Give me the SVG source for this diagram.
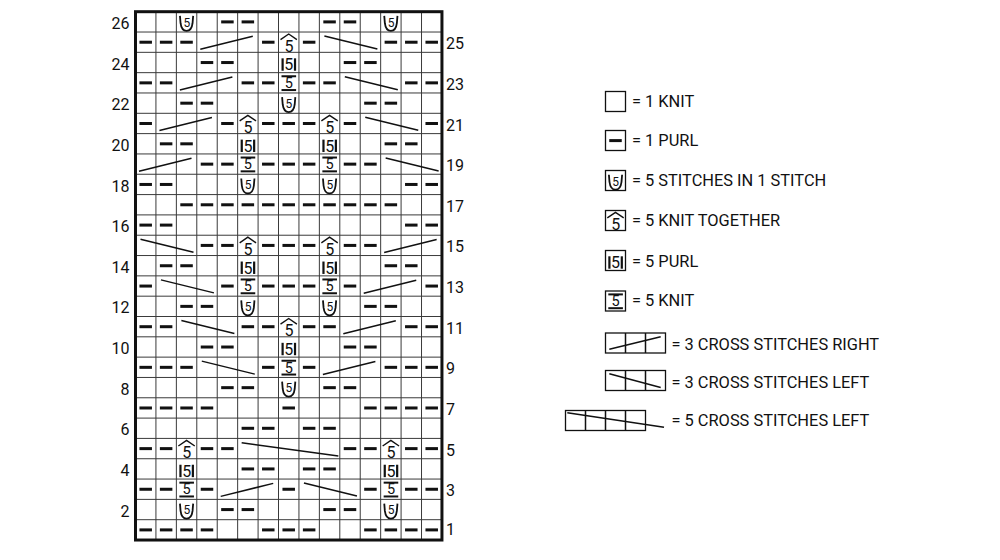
<svg xmlns="http://www.w3.org/2000/svg" width="1000" height="560" viewBox="0 0 1000 560">
<style>
text{font-family:Roboto,"Liberation Sans",sans-serif;fill:#111}
.d{text-anchor:middle}
.lab{font-size:16px}
.le{text-anchor:end}
.grid{stroke:#3a3a3a;stroke-width:1;fill:none}
.cr{stroke:#111;stroke-width:1.5;fill:none}
.box{stroke:#111;stroke-width:1.3;fill:#fff}
.leg{font-size:16.4px}
</style>
<defs>
<g id="pu"><rect x="3.95" y="8.7" width="12.5" height="3" fill="#111"/></g>
<g id="inc"><path d="M3.6,4.2 L4.2,11.5 C4.8,16.5 7.2,19.2 10.2,19.2 C13.2,19.2 15.6,16.5 16.2,11.5 L16.8,4.2" fill="none" stroke="#111" stroke-width="1.8"/><text class="d" x="10.4" y="15" font-size="12">5</text></g>
<g id="k5tog"><path d="M2,7.6 L10.2,2 L18.4,7.6" fill="none" stroke="#111" stroke-width="1.4"/><text class="d" x="10.4" y="19.8" font-size="16">5</text></g>
<g id="p5"><rect x="3" y="6" width="2.2" height="12.4" fill="#111"/><rect x="15.4" y="6" width="2.2" height="12.4" fill="#111"/><text class="d" x="10.3" y="18" font-size="16">5</text></g>
<g id="k5"><rect x="3" y="2.6" width="14.6" height="2" fill="#111"/><rect x="3" y="16.4" width="14.6" height="2" fill="#111"/><text class="d" x="10.3" y="15.4" font-size="14.5">5</text></g>
</defs>
<rect width="1000" height="560" fill="#fff"/>
<g id="chart-grid">
<path class="grid" d="M155.93,11.7V540M176.36,11.7V540M196.79,11.7V540M217.22,11.7V540M237.65,11.7V540M258.08,11.7V540M278.51,11.7V540M298.94,11.7V540M319.37,11.7V540M339.8,11.7V540M360.23,11.7V540M380.66,11.7V540M401.09,11.7V540M421.52,11.7V540M135.5,32.02H442M135.5,52.34H442M135.5,72.66H442M135.5,92.98H442M135.5,113.3H442M135.5,133.62H442M135.5,153.94H442M135.5,174.26H442M135.5,194.58H442M135.5,214.9H442M135.5,235.22H442M135.5,255.54H442M135.5,275.86H442M135.5,296.18H442M135.5,316.5H442M135.5,336.82H442M135.5,357.14H442M135.5,377.46H442M135.5,397.78H442M135.5,418.1H442M135.5,438.42H442M135.5,458.74H442M135.5,479.06H442M135.5,499.38H442M135.5,519.7H442"/>
<rect x="135.5" y="11.7" width="306.45" height="528.32" fill="none" stroke="#111" stroke-width="3"/>
</g>
<g id="row26" transform="translate(0,11.7)"><use href="#pu" x="217.22"/><use href="#pu" x="237.65"/><use href="#pu" x="319.37"/><use href="#pu" x="339.8"/><use href="#inc" x="176.36"/><use href="#inc" x="380.66"/></g>
<g id="row25" transform="translate(0,32.02)"><use href="#pu" x="135.5"/><use href="#pu" x="155.93"/><use href="#pu" x="176.36"/><use href="#pu" x="258.08"/><use href="#pu" x="298.94"/><use href="#pu" x="380.66"/><use href="#pu" x="401.09"/><use href="#pu" x="421.52"/><use href="#k5tog" x="278.51"/></g>
<g id="row24" transform="translate(0,52.34)"><use href="#pu" x="196.79"/><use href="#pu" x="217.22"/><use href="#pu" x="339.8"/><use href="#pu" x="360.23"/><use href="#p5" x="278.51"/></g>
<g id="row23" transform="translate(0,72.66)"><use href="#pu" x="135.5"/><use href="#pu" x="155.93"/><use href="#pu" x="237.65"/><use href="#pu" x="258.08"/><use href="#pu" x="298.94"/><use href="#pu" x="319.37"/><use href="#pu" x="401.09"/><use href="#pu" x="421.52"/><use href="#k5" x="278.51"/></g>
<g id="row22" transform="translate(0,92.98)"><use href="#pu" x="176.36"/><use href="#pu" x="196.79"/><use href="#pu" x="360.23"/><use href="#pu" x="380.66"/><use href="#inc" x="278.51"/></g>
<g id="row21" transform="translate(0,113.3)"><use href="#pu" x="135.5"/><use href="#pu" x="217.22"/><use href="#pu" x="258.08"/><use href="#pu" x="278.51"/><use href="#pu" x="298.94"/><use href="#pu" x="339.8"/><use href="#pu" x="421.52"/><use href="#k5tog" x="237.65"/><use href="#k5tog" x="319.37"/></g>
<g id="row20" transform="translate(0,133.62)"><use href="#pu" x="155.93"/><use href="#pu" x="176.36"/><use href="#pu" x="380.66"/><use href="#pu" x="401.09"/><use href="#p5" x="237.65"/><use href="#p5" x="319.37"/></g>
<g id="row19" transform="translate(0,153.94)"><use href="#pu" x="196.79"/><use href="#pu" x="217.22"/><use href="#pu" x="258.08"/><use href="#pu" x="278.51"/><use href="#pu" x="298.94"/><use href="#pu" x="339.8"/><use href="#pu" x="360.23"/><use href="#k5" x="237.65"/><use href="#k5" x="319.37"/></g>
<g id="row18" transform="translate(0,174.26)"><use href="#pu" x="135.5"/><use href="#pu" x="155.93"/><use href="#pu" x="401.09"/><use href="#pu" x="421.52"/><use href="#inc" x="237.65"/><use href="#inc" x="319.37"/></g>
<g id="row17" transform="translate(0,194.58)"><use href="#pu" x="176.36"/><use href="#pu" x="196.79"/><use href="#pu" x="217.22"/><use href="#pu" x="237.65"/><use href="#pu" x="258.08"/><use href="#pu" x="278.51"/><use href="#pu" x="298.94"/><use href="#pu" x="319.37"/><use href="#pu" x="339.8"/><use href="#pu" x="360.23"/><use href="#pu" x="380.66"/></g>
<g id="row16" transform="translate(0,214.9)"><use href="#pu" x="135.5"/><use href="#pu" x="155.93"/><use href="#pu" x="401.09"/><use href="#pu" x="421.52"/></g>
<g id="row15" transform="translate(0,235.22)"><use href="#pu" x="196.79"/><use href="#pu" x="217.22"/><use href="#pu" x="258.08"/><use href="#pu" x="278.51"/><use href="#pu" x="298.94"/><use href="#pu" x="339.8"/><use href="#pu" x="360.23"/><use href="#k5tog" x="237.65"/><use href="#k5tog" x="319.37"/></g>
<g id="row14" transform="translate(0,255.54)"><use href="#pu" x="155.93"/><use href="#pu" x="176.36"/><use href="#pu" x="380.66"/><use href="#pu" x="401.09"/><use href="#p5" x="237.65"/><use href="#p5" x="319.37"/></g>
<g id="row13" transform="translate(0,275.86)"><use href="#pu" x="135.5"/><use href="#pu" x="217.22"/><use href="#pu" x="258.08"/><use href="#pu" x="278.51"/><use href="#pu" x="298.94"/><use href="#pu" x="339.8"/><use href="#pu" x="421.52"/><use href="#k5" x="237.65"/><use href="#k5" x="319.37"/></g>
<g id="row12" transform="translate(0,296.18)"><use href="#pu" x="176.36"/><use href="#pu" x="196.79"/><use href="#pu" x="360.23"/><use href="#pu" x="380.66"/><use href="#inc" x="237.65"/><use href="#inc" x="319.37"/></g>
<g id="row11" transform="translate(0,316.5)"><use href="#pu" x="135.5"/><use href="#pu" x="155.93"/><use href="#pu" x="237.65"/><use href="#pu" x="258.08"/><use href="#pu" x="298.94"/><use href="#pu" x="319.37"/><use href="#pu" x="401.09"/><use href="#pu" x="421.52"/><use href="#k5tog" x="278.51"/></g>
<g id="row10" transform="translate(0,336.82)"><use href="#pu" x="196.79"/><use href="#pu" x="217.22"/><use href="#pu" x="339.8"/><use href="#pu" x="360.23"/><use href="#p5" x="278.51"/></g>
<g id="row9" transform="translate(0,357.14)"><use href="#pu" x="135.5"/><use href="#pu" x="155.93"/><use href="#pu" x="176.36"/><use href="#pu" x="258.08"/><use href="#pu" x="298.94"/><use href="#pu" x="380.66"/><use href="#pu" x="401.09"/><use href="#pu" x="421.52"/><use href="#k5" x="278.51"/></g>
<g id="row8" transform="translate(0,377.46)"><use href="#pu" x="217.22"/><use href="#pu" x="237.65"/><use href="#pu" x="319.37"/><use href="#pu" x="339.8"/><use href="#inc" x="278.51"/></g>
<g id="row7" transform="translate(0,397.78)"><use href="#pu" x="135.5"/><use href="#pu" x="155.93"/><use href="#pu" x="176.36"/><use href="#pu" x="196.79"/><use href="#pu" x="278.51"/><use href="#pu" x="360.23"/><use href="#pu" x="380.66"/><use href="#pu" x="401.09"/><use href="#pu" x="421.52"/></g>
<g id="row6" transform="translate(0,418.1)"><use href="#pu" x="237.65"/><use href="#pu" x="258.08"/><use href="#pu" x="298.94"/><use href="#pu" x="319.37"/></g>
<g id="row5" transform="translate(0,438.42)"><use href="#pu" x="135.5"/><use href="#pu" x="155.93"/><use href="#pu" x="196.79"/><use href="#pu" x="217.22"/><use href="#pu" x="339.8"/><use href="#pu" x="360.23"/><use href="#pu" x="401.09"/><use href="#pu" x="421.52"/><use href="#k5tog" x="176.36"/><use href="#k5tog" x="380.66"/></g>
<g id="row4" transform="translate(0,458.74)"><use href="#pu" x="237.65"/><use href="#pu" x="258.08"/><use href="#pu" x="298.94"/><use href="#pu" x="319.37"/><use href="#p5" x="176.36"/><use href="#p5" x="380.66"/></g>
<g id="row3" transform="translate(0,479.06)"><use href="#pu" x="135.5"/><use href="#pu" x="155.93"/><use href="#pu" x="196.79"/><use href="#pu" x="278.51"/><use href="#pu" x="360.23"/><use href="#pu" x="401.09"/><use href="#pu" x="421.52"/><use href="#k5" x="176.36"/><use href="#k5" x="380.66"/></g>
<g id="row2" transform="translate(0,499.38)"><use href="#pu" x="217.22"/><use href="#pu" x="237.65"/><use href="#pu" x="319.37"/><use href="#pu" x="339.8"/><use href="#inc" x="176.36"/><use href="#inc" x="380.66"/></g>
<g id="row1" transform="translate(0,519.7)"><use href="#pu" x="135.5"/><use href="#pu" x="155.93"/><use href="#pu" x="176.36"/><use href="#pu" x="196.79"/><use href="#pu" x="258.08"/><use href="#pu" x="278.51"/><use href="#pu" x="298.94"/><use href="#pu" x="360.23"/><use href="#pu" x="380.66"/><use href="#pu" x="401.09"/><use href="#pu" x="421.52"/></g>
<g id="crossings" class="cr">
<line x1="200.29" y1="49.32" x2="252.79" y2="36.32"/><line x1="324.37" y1="36.02" x2="377.37" y2="49.02"/>
<line x1="179.86" y1="89.96" x2="232.36" y2="76.96"/><line x1="344.8" y1="76.66" x2="397.8" y2="89.66"/>
<line x1="159.43" y1="130.6" x2="211.93" y2="117.6"/><line x1="365.23" y1="117.3" x2="418.23" y2="130.3"/>
<line x1="139" y1="171.24" x2="191.5" y2="158.24"/><line x1="385.66" y1="157.94" x2="438.66" y2="170.94"/>
<line x1="140.5" y1="239.22" x2="193.5" y2="252.22"/><line x1="384.16" y1="252.52" x2="436.66" y2="239.52"/>
<line x1="160.93" y1="279.86" x2="213.93" y2="292.86"/><line x1="363.73" y1="293.16" x2="416.23" y2="280.16"/>
<line x1="181.36" y1="320.5" x2="234.36" y2="333.5"/><line x1="343.3" y1="333.8" x2="395.8" y2="320.8"/>
<line x1="201.79" y1="361.14" x2="254.79" y2="374.14"/><line x1="322.87" y1="374.44" x2="375.37" y2="361.44"/>
<line x1="241.65" y1="442.72" x2="338.35" y2="456.02"/>
<line x1="220.72" y1="496.36" x2="273.22" y2="483.36"/><line x1="303.94" y1="483.06" x2="356.94" y2="496.06"/>
</g>
<g id="row-numbers" class="lab">
<text class="le" x="129.5" y="28.9">26</text><text class="le" x="129.5" y="69.5">24</text><text class="le" x="129.5" y="110.2">22</text><text class="le" x="129.5" y="150.8">20</text><text class="le" x="129.5" y="191.5">18</text><text class="le" x="129.5" y="232.1">16</text><text class="le" x="129.5" y="272.7">14</text><text class="le" x="129.5" y="313.4">12</text><text class="le" x="129.5" y="354">10</text><text class="le" x="129.5" y="394.7">8</text><text class="le" x="129.5" y="435.3">6</text><text class="le" x="129.5" y="475.9">4</text><text class="le" x="129.5" y="516.6">2</text>
<text x="446" y="48.8">25</text><text x="446" y="89.9">23</text><text x="446" y="130.5">21</text><text x="446" y="171.1">19</text><text x="446" y="211.8">17</text><text x="446" y="252.4">15</text><text x="446" y="293.1">13</text><text x="446" y="333.7">11</text><text x="446" y="374.3">9</text><text x="446" y="415">7</text><text x="446" y="455.6">5</text><text x="446" y="496">3</text><text x="446" y="534.5">1</text>
</g>
<g id="legend-knit"><rect class="box" x="605.5" y="91.5" width="20" height="20"/><text class="leg" x="632" y="107.3">= 1 KNIT</text></g>
<g id="legend-purl"><rect class="box" x="605.5" y="130.5" width="20" height="20"/><use href="#pu" x="605.3" y="130.4"/><text class="leg" x="632" y="145.7">= 1 PURL</text></g>
<g id="legend-inc"><rect class="box" x="605.5" y="170.5" width="20" height="20"/><use href="#inc" x="605.3" y="170.5"/><text class="leg" x="632" y="186">= 5 STITCHES IN 1 STITCH</text></g>
<g id="legend-k5tog"><rect class="box" x="605.5" y="210.5" width="20" height="20"/><use href="#k5tog" x="605.3" y="210.3"/><text class="leg" x="632" y="225.7">= 5 KNIT TOGETHER</text></g>
<g id="legend-p5"><rect class="box" x="605.5" y="250.5" width="20" height="20"/><use href="#p5" x="605.3" y="250.3"/><text class="leg" x="632" y="266.7">= 5 PURL</text></g>
<g id="legend-k5"><rect class="box" x="605.5" y="291" width="20" height="20"/><use href="#k5" x="605.3" y="290.8"/><text class="leg" x="632" y="305.7">= 5 KNIT</text></g>
<g id="legend-cr3"><rect class="box" x="605.5" y="333" width="60" height="20"/><path class="cr" d="M625.5,333V353M645.5,333V353"/><line class="cr" x1="609.3" y1="349.3" x2="660.7" y2="336.7"/><text class="leg" x="671.5" y="349.5">= 3 CROSS STITCHES RIGHT</text></g>
<g id="legend-cl3"><rect class="box" x="605.5" y="370.5" width="60" height="20"/><path class="cr" d="M625.5,370.5V390.5M645.5,370.5V390.5"/><line class="cr" x1="609.3" y1="373.7" x2="660.7" y2="387.5"/><text class="leg" x="671.5" y="387.5">= 3 CROSS STITCHES LEFT</text></g>
<g id="legend-cl5"><rect class="box" x="565.5" y="410.5" width="80" height="20"/><path class="cr" d="M585.5,410.5V430.5M605.5,410.5V430.5M625.5,410.5V430.5"/><line class="cr" x1="567.3" y1="412.7" x2="664" y2="427.3"/><text class="leg" x="671.5" y="426">= 5 CROSS STITCHES LEFT</text></g>
</svg>
